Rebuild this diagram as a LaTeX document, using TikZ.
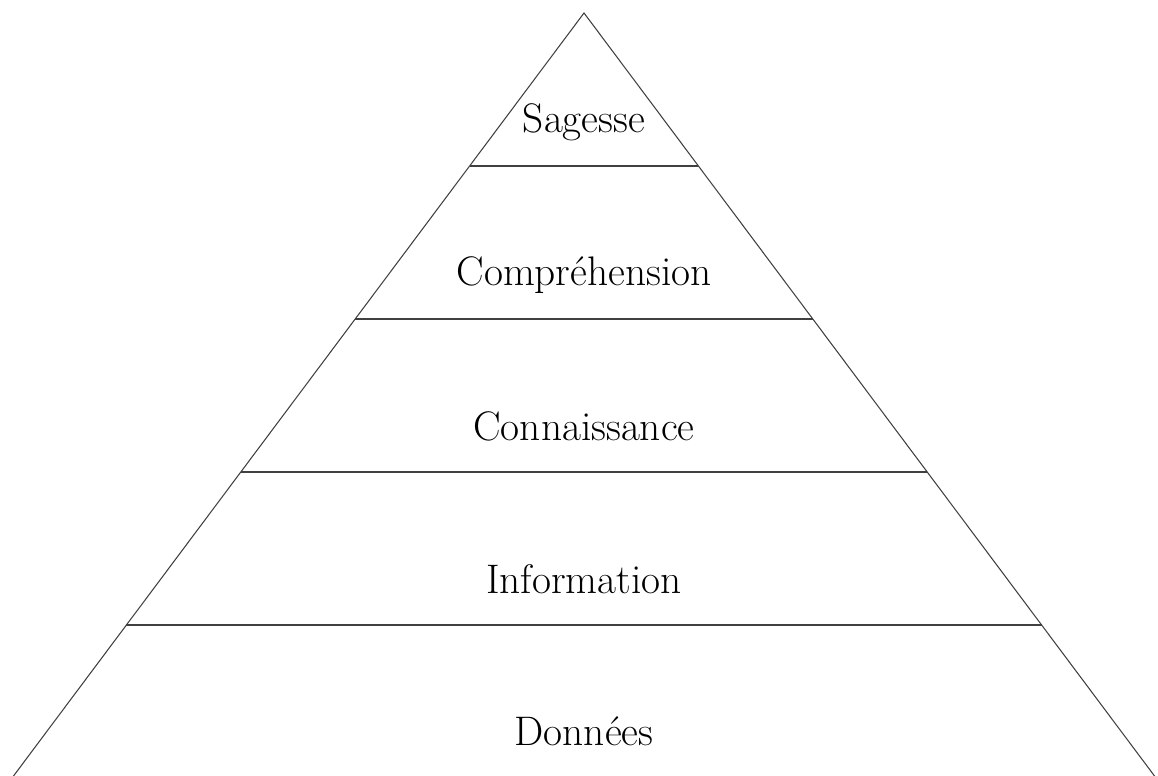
\documentclass[tikz,border=0pt]{standalone}
\begin{document}
\begin{tikzpicture}[x=0.02cm,y=-0.02cm,line width=0.6pt,
	level/.style={font=\fontsize{23.5}{28}\selectfont,anchor=base}]
			\useasboundingbox (0,0) rectangle (1158,776);
			\coordinate (top) at (584,13);
			\coordinate (bl) at (12,778);
			\coordinate (br) at (1156,778);
			\draw[black!75] (bl) -- (top) -- (br);
			\foreach \k in {1,...,4}
				\draw[black!75] (584-114.4*\k,13+153*\k) -- (584+114.4*\k,13+153*\k);
			\node[level] (sagesse) at (584,133) {Sagesse};
			\node[level] (comprehension) at (584,286) {Compréhension};
			\node[level] (connaissance) at (584,440) {Connaissance};
			\node[level] (information) at (584,593) {Information};
			\node[level] (donnees) at (584,745) {Données};
		\end{tikzpicture}
\end{document}
